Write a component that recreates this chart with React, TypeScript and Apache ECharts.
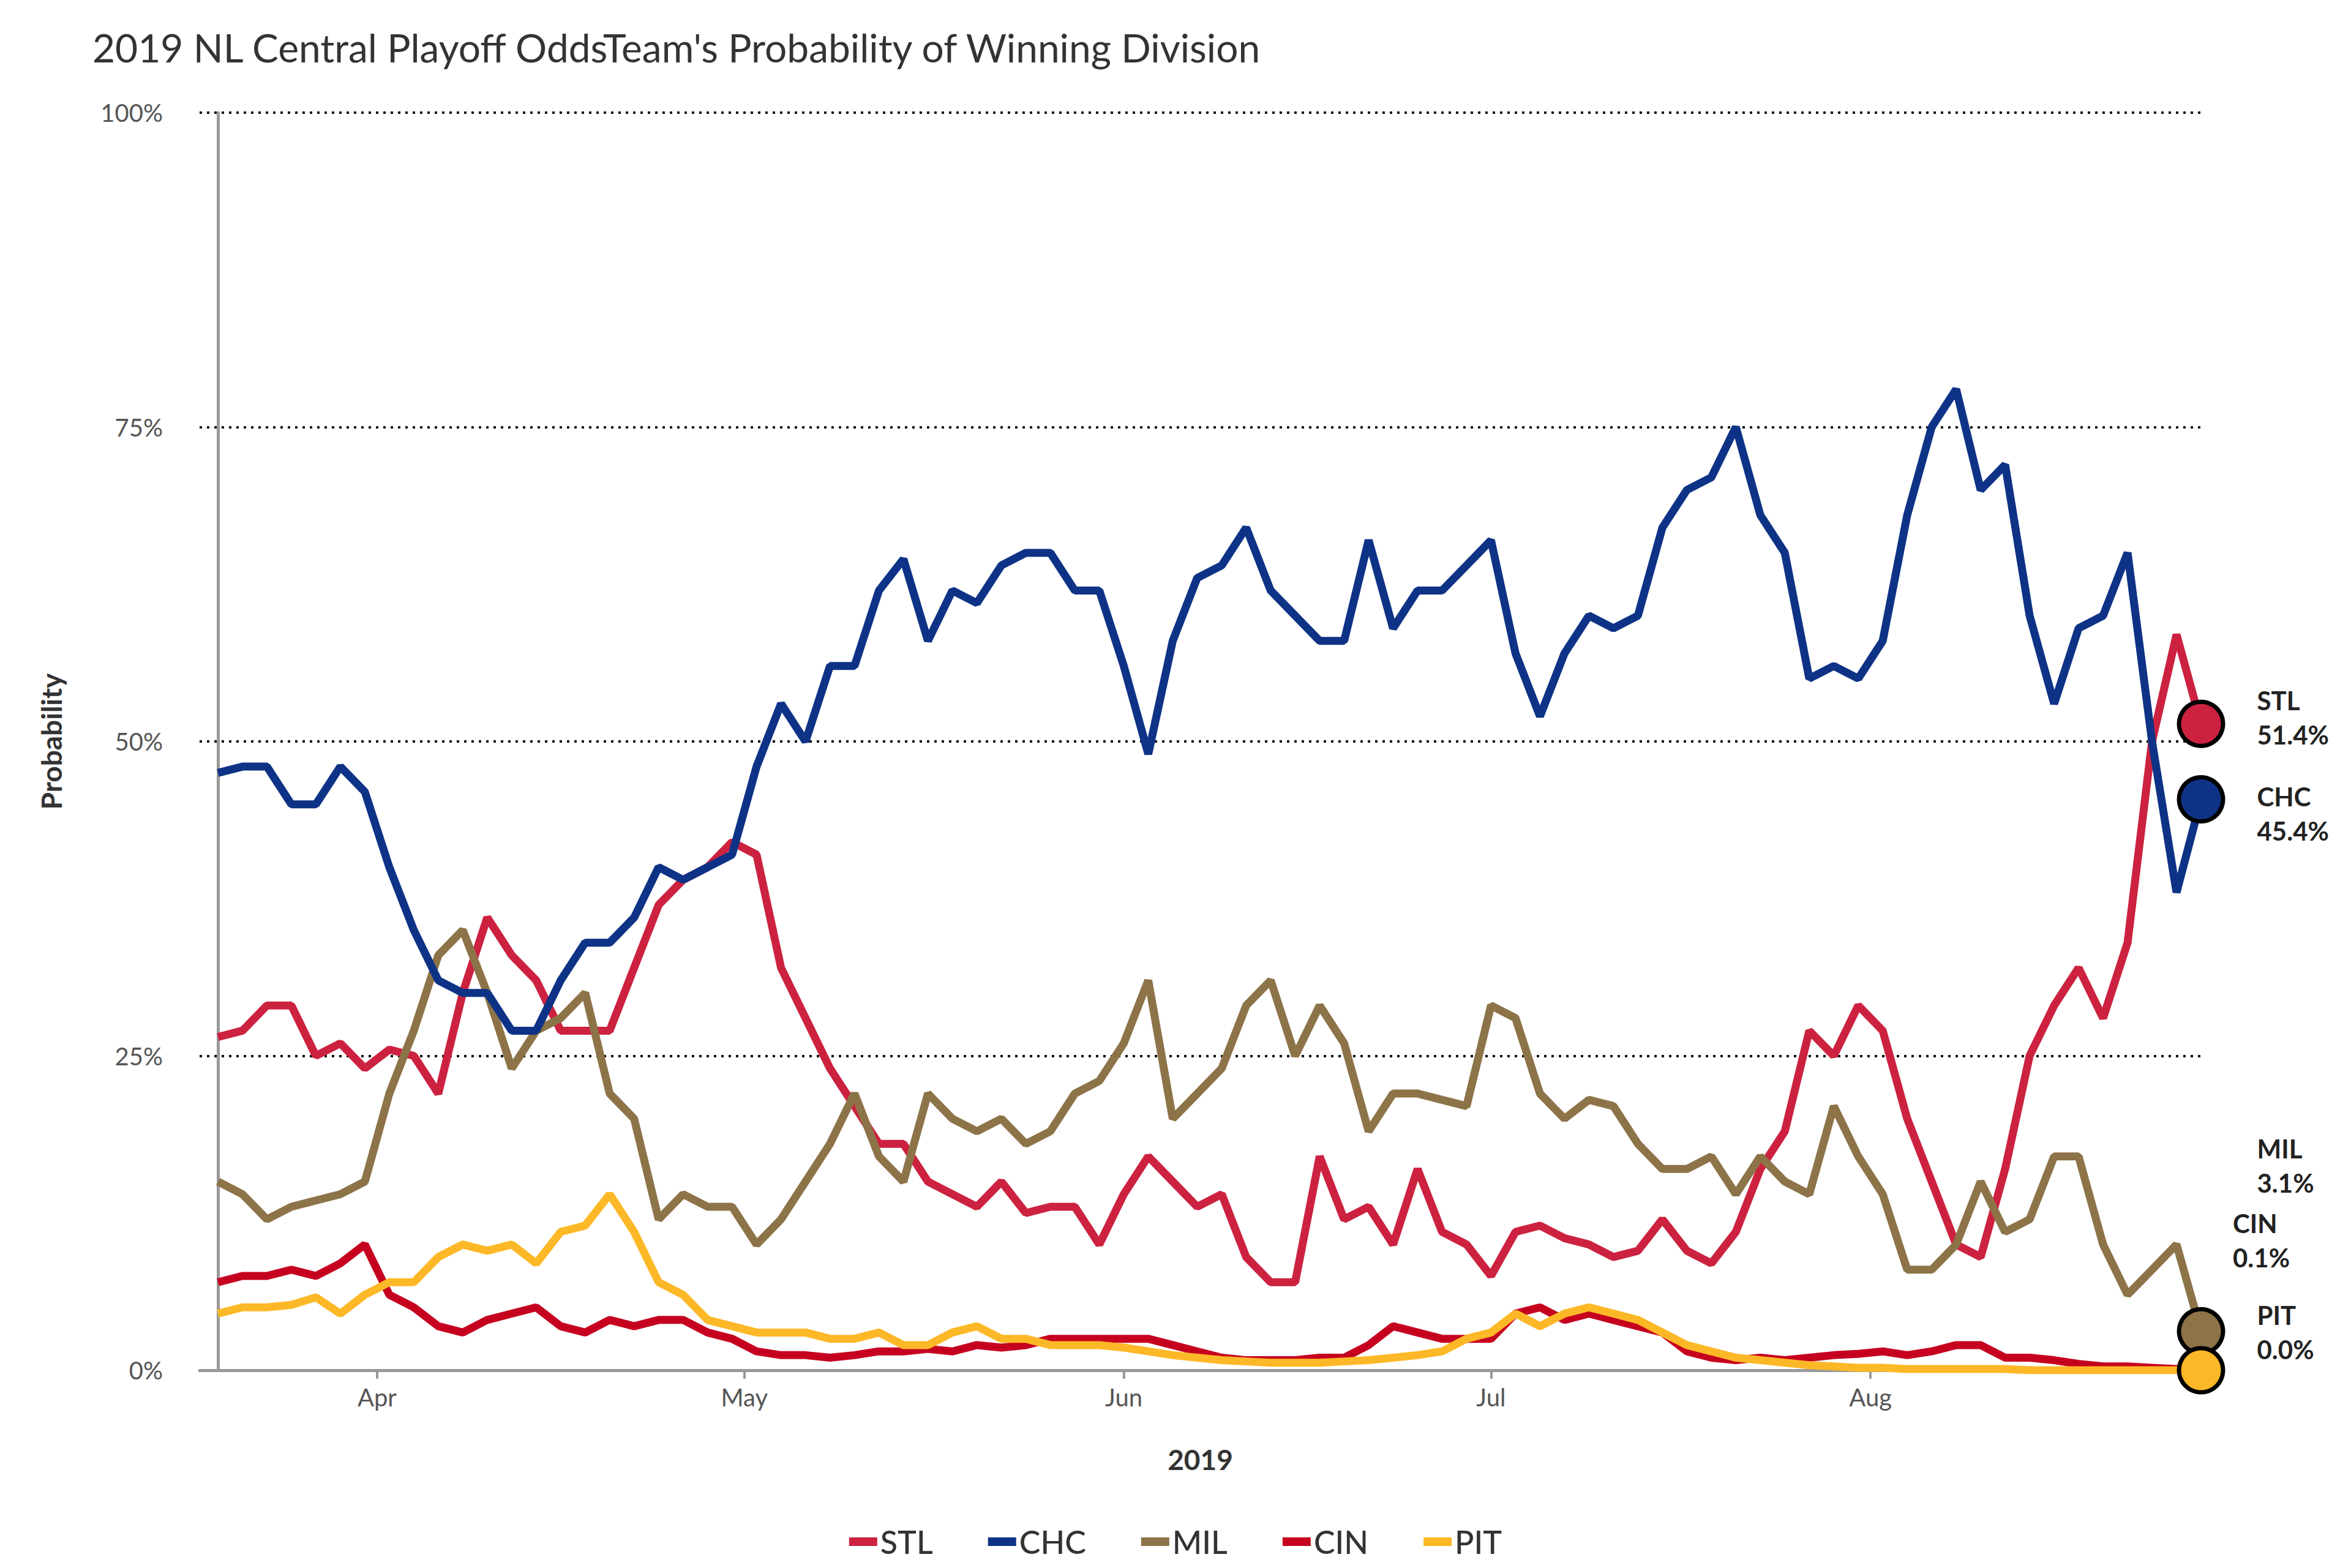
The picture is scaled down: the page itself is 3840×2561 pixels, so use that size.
import * as echarts from "echarts";
import { useEffect, useRef } from "react";

// one value every two days, starting Mar 19, 2019
const dayStep = 2;
const stl = [26.5, 27, 29, 29, 25, 26, 24, 25.5, 25, 22, 30, 36, 33, 31, 27, 27, 27, 32, 37, 39, 40, 42, 41, 32, 28, 24, 21, 18, 18, 15, 14, 13, 15, 12.5, 13, 13, 10, 14, 17, 15, 13, 14, 9, 7, 7, 17, 12, 13, 10, 16, 11, 10, 7.5, 11, 11.5, 10.5, 10, 9, 9.5, 12, 9.5, 8.5, 11, 16, 19, 27, 25, 29, 27, 20, 15, 10, 9, 16, 25, 29, 32, 28, 34, 50, 58.5, 51.4];
const chc = [47.5, 48, 48, 45, 45, 48, 46, 40, 35, 31, 30, 30, 27, 27, 31, 34, 34, 36, 40, 39, 40, 41, 48, 53, 50, 56, 56, 62, 64.5, 58, 62, 61, 64, 65, 65, 62, 62, 56, 49, 58, 63, 64, 67, 62, 60, 58, 58, 66, 59, 62, 62, 64, 66, 57, 52, 57, 60, 59, 60, 67, 70, 71, 75, 68, 65, 55, 56, 55, 58, 68, 75, 78, 70, 72, 60, 53, 59, 60, 65, 50, 38, 45.4];
const mil = [15, 14, 12, 13, 13.5, 14, 15, 22, 27, 33, 35, 30, 24, 27, 28, 30, 22, 20, 12, 14, 13, 13, 10, 12, 15, 18, 22, 17, 15, 22, 20, 19, 20, 18, 19, 22, 23, 26, 31, 20, 22, 24, 29, 31, 25, 29, 26, 19, 22, 22, 21.5, 21, 29, 28, 22, 20, 21.5, 21, 18, 16, 16, 17, 14, 17, 15, 14, 21, 17, 14, 8, 8, 10, 15, 11, 12, 17, 17, 10, 6, 8, 10, 3.1];
const cin = [7, 7.5, 7.5, 8, 7.5, 8.5, 10, 6, 5, 3.5, 3, 4, 4.5, 5, 3.5, 3, 4, 3.5, 4, 4, 3, 2.5, 1.5, 1.2, 1.2, 1, 1.2, 1.5, 1.5, 1.7, 1.5, 2, 1.8, 2, 2.5, 2.5, 2.5, 2.5, 2.5, 2, 1.5, 1, 0.8, 0.8, 0.8, 1, 1, 2, 3.5, 3, 2.5, 2.5, 2.5, 4.5, 5, 4, 4.5, 4, 3.5, 3, 1.5, 1, 0.8, 1, 0.8, 1, 1.2, 1.3, 1.5, 1.2, 1.5, 2, 2, 1, 1, 0.8, 0.5, 0.3, 0.3, 0.2, 0.1, 0.1];
const pit = [4.5, 5, 5, 5.2, 5.8, 4.5, 6, 7, 7, 9, 10, 9.5, 10, 8.5, 11, 11.5, 14, 11, 7, 6, 4, 3.5, 3, 3, 3, 2.5, 2.5, 3, 2, 2, 3, 3.5, 2.5, 2.5, 2, 2, 2, 1.8, 1.5, 1.2, 1, 0.8, 0.7, 0.6, 0.6, 0.6, 0.7, 0.8, 1, 1.2, 1.5, 2.5, 3, 4.5, 3.5, 4.5, 5, 4.5, 4, 3, 2, 1.5, 1, 0.8, 0.6, 0.4, 0.3, 0.2, 0.2, 0.1, 0.1, 0.1, 0.1, 0.1, 0, 0, 0, 0, 0, 0, 0, 0];

const monthDays = [13, 43, 74, 104, 135];
const monthNames = ["Apr", "May", "Jun", "Jul", "Aug"];

const teams = [
  { name: "STL", data: stl, color: "#cc2240", labelDy: -10 },
  { name: "CHC", data: chc, color: "#0e3386", labelDy: 24 },
  { name: "MIL", data: mil, color: "#8d7348", labelDy: -270 },
  { name: "CIN", data: cin, color: "#c6011f", labelDy: -210 },
  { name: "PIT", data: pit, color: "#fdb827", labelDy: -62 },
];

export default function App() {
  const ref = useRef<HTMLDivElement | null>(null);

  useEffect(() => {
    document.body.style.margin = "0";
    const el = ref.current;
    if (!el) return;
    const chart = echarts.init(el, undefined, { renderer: "svg" });
    const font = "Lato, 'Noto Sans', sans-serif";

    const lines = teams.map((t) => ({
      name: t.name,
      type: "line" as const,
      symbol: "none",
      data: t.data.map((v, i) => [i * dayStep, v]),
      lineStyle: { color: t.color, width: 13 },
      itemStyle: { color: t.color },
      z: t.name === "CHC" ? 4 : 3,
    }));

    const ends = teams.map((t) => {
      const last = t.data.length - 1;
      return {
        name: t.name + "-end",
        type: "scatter" as const,
        symbolSize: t.name === "CIN" ? 0 : 72,
        data: [[last * dayStep, t.data[last]]],
        itemStyle: { color: t.color, opacity: 1, borderColor: "#000", borderWidth: 7 },
        z: t.name === "PIT" ? 11 : 10,
        label: {
          show: true,
          position: "right",
          distance: 52,
          offset: [0, t.labelDy],
          align: "left",
          formatter: `{n|${t.name}}\n{v|${t.data[last].toFixed(1)}%}`,
          rich: {
            n: { fontFamily: font, fontSize: 42, fontWeight: "bold", color: "#222", lineHeight: 56 },
            v: { fontFamily: font, fontSize: 42, fontWeight: "bold", color: "#222", lineHeight: 56 },
          },
        },
      };
    });

    chart.setOption({
      animation: false,
      textStyle: { fontFamily: font },
      title: {
        text: "2019 NL Central Playoff OddsTeam's Probability of Winning Division",
        left: 146,
        top: 40,
        textStyle: { fontFamily: font, fontSize: 64, fontWeight: "normal", color: "#333" },
      },
      legend: {
        bottom: 12,
        left: "center",
        data: teams.map((t) => ({ name: t.name, icon: "rect" })),
        itemWidth: 46,
        itemHeight: 14,
        itemGap: 90,
        textStyle: { fontFamily: font, fontSize: 52, fontWeight: 500, color: "#333" },
      },
      grid: { left: 326, right: 245, top: 184, bottom: 323 },
      xAxis: {
        type: "value",
        min: -1.5,
        max: 162,
        name: "2019",
        nameLocation: "middle",
        nameGap: 122,
        nameTextStyle: { fontFamily: font, fontSize: 46, fontWeight: "bold", color: "#333" },
        axisLine: { lineStyle: { color: "#999", width: 5 } },
        axisTick: { show: true, customValues: monthDays, length: 14, lineStyle: { color: "#999", width: 4 } },
        axisLabel: {
          customValues: monthDays,
          formatter: (v: number) => monthNames[monthDays.indexOf(v)] ?? "",
          fontSize: 40,
          color: "#555",
          margin: 24,
        },
        splitLine: { show: false },
      },
      yAxis: {
        type: "value",
        min: 0,
        max: 100,
        interval: 25,
        name: "Probability",
        nameLocation: "middle",
        nameGap: 220,
        nameTextStyle: { fontFamily: font, fontSize: 46, fontWeight: "bold", color: "#333" },
        axisLine: { show: true, lineStyle: { color: "#999", width: 5 } },
        axisTick: { show: false },
        axisLabel: { formatter: "{value}%", fontSize: 40, color: "#555", margin: 60 },
        splitLine: {
          show: true,
          lineStyle: { color: "#111", type: [4, 8], width: 4 },
          showMinLine: false,
        },
      },
      series: [...lines, ...ends],
    });

    return () => {
      if (!chart.isDisposed()) chart.dispose();
    };
  }, []);

  return <div ref={ref} style={{ width: 3840, height: 2561 }} />;
}
